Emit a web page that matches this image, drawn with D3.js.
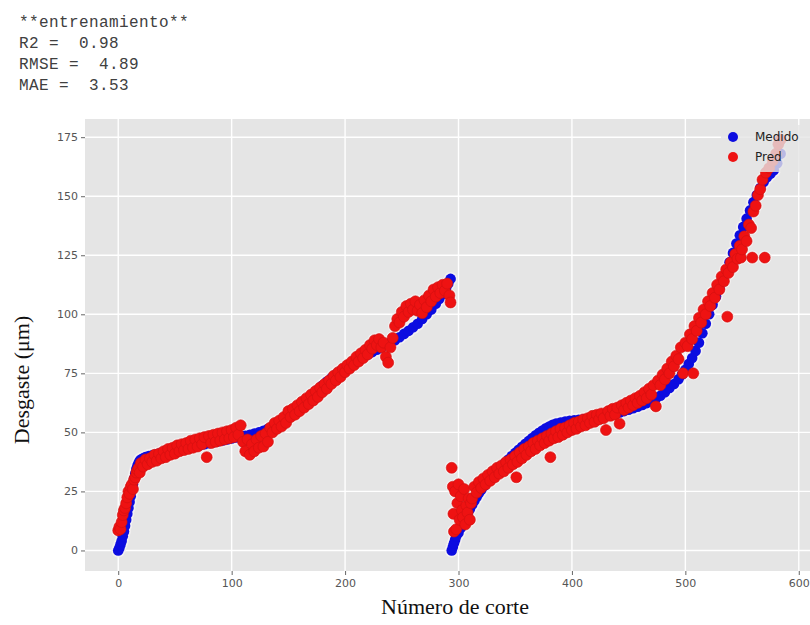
<!DOCTYPE html>
<html lang="es">
<head>
<meta charset="UTF-8">
<title>Desgaste - entrenamiento</title>
<script src="https://d3js.org/d3.v7.min.js"></script>
<style>
    body { margin: 0; background: #fff; }
    svg { display: block; }
    .stats { font-family: "Liberation Mono", "DejaVu Sans Mono", monospace; font-size: 16px; letter-spacing: 0.4px; fill: #404040; white-space: pre; }
    .tick text { font-family: "DejaVu Sans", sans-serif; font-size: 11px; fill: #555; }
    .axis-label { font-family: "Liberation Serif", "Times New Roman", serif; font-size: 22px; fill: #111; }
    .legend text { font-family: "DejaVu Sans", sans-serif; font-size: 12px; fill: #222; }
</style>
</head>
<body>
<svg width="810" height="625"></svg>
<script>
// header lines
const statLines = ["**entrenamiento**", "R2 =  0.98", "RMSE =  4.89", "MAE =  3.53"];

const xTicks = [0, 100, 200, 300, 400, 500, 600];
const yTicks = [0, 25, 50, 75, 100, 125, 150, 175];

// Medido (measured wear), two tool runs
const medidoX = [0,1,2,3,4,5,6,7,8,9,10,11,12,13,14,15,16,17,18,19,20,22,24,27,30,33,36,40,44,48,52,56,60,64,68,72,76,80,84,88,92,96,100,104,108,112,116,120,124,128,132,136,140,144,148,152,156,160,164,168,172,176,180,184,188,192,196,200,204,208,212,216,220,224,228,232,236,240,244,248,252,256,260,264,268,272,276,280,283,286,289,291,293,
    294,295,296,297,298,300,302,304,306,308,310,312,314,316,318,320,323,326,329,332,335,338,341,344,347,350,353,356,359,362,365,368,371,374,377,380,383,386,390,394,398,402,406,410,414,418,422,426,430,434,438,442,446,450,454,458,462,466,470,474,478,482,486,490,494,497,500,503,506,509,512,515,518,521,524,527,530,533,536,539,542,545,548,551,554,557,560,563,566,569,572,575,578,581,584];
const medidoY = [0,1,2.5,4,6,8,10.5,13,15.5,18,20.5,23,25.5,28,30.5,32.5,34.5,36,37,38,38.5,39,39.5,40,40.3,40.6,41,41.4,41.8,42.2,42.6,43,43.4,43.8,44.2,44.6,45,45.4,45.8,46.2,46.6,47,47.4,47.8,48.2,48.6,49,49.5,50,50.7,51.5,52.5,53.5,55,56.5,58,59.5,61,62.5,64,66,68,69.8,71.5,73,74.5,76,77.2,78.5,79.7,80.8,82,83,84,85,86,87,88,89,90.3,91.7,93,94.5,96,98,100,102,104.5,106.5,108.5,111,113,115,
    0,1.5,3,4.5,6,7.5,9.5,11.5,13.5,15.5,17.5,19.3,21,22.6,24.2,25.6,27.5,29.3,31,32.6,34,35.5,37,38.5,40,41.3,42.6,43.9,45.2,46.4,47.6,48.8,49.8,50.8,51.7,52.5,53.2,53.7,54.2,54.6,54.9,55.1,55.3,55.5,55.7,56,56.3,56.6,57,57.4,57.9,58.4,59,59.6,60.2,60.9,61.6,62.4,63.3,64.3,65.5,67,68.8,70.5,72.5,74.5,76.5,79,81.5,84.5,88,92,96,100,104,107.5,111,114.5,118,122,126,130,133.5,137,140.5,144,147.5,150.5,153.5,156,158,159.5,161,164,168];

// Pred (model prediction)
const predX = [0,1,2,3,4,5,6,7,8,9,10,11,12,13,14,15,16,17,18,19,
    20,22,24,26,28,30,32,34,36,38,40,42,44,46,48,50,52,54,56,58,60,62,64,66,68,70,72,74,76,78,80,82,84,86,88,90,92,94,96,98,100,102,104,106,108,110,112,114,116,118,120,122,124,126,128,130,132,134,136,138,140,142,144,146,148,150,152,154,156,158,160,162,164,166,168,170,172,174,176,178,180,182,184,186,188,190,192,194,196,198,200,202,204,206,208,210,212,214,216,218,220,222,224,226,228,230,232,234,236,238,240,242,244,246,248,250,252,254,256,258,260,262,264,266,268,270,272,274,276,278,280,282,284,286,288,290,292,293,
    294,295,295.5,296,297,298,299,300,301,302,303,304,305,306,307,308,309,310,311,
    312,314,316,318,320,322,324,326,328,330,332,334,336,338,340,342,344,346,348,350,351,352,354,356,358,360,362,364,366,368,370,372,374,376,378,380,381,382,384,386,388,390,392,394,396,398,400,402,404,406,408,410,412,414,416,418,420,422,424,426,428,430,432,434,436,438,440,442,444,446,448,450,452,454,456,458,460,462,464,466,468,470,472,474,476,478,480,482,484,486,488,490,492,494,496,498,500,502,504,506,507,508,510,512,514,516,518,520,522,524,526,528,530,532,534,536,537,538,540,542,544,546,548,549,550,552,554,556,558,559,560,562,564,566,568,570,571,574,577,580,582,584];
const predY = [8.5,10,9,12,15,17,18,20,22.5,25,24,27,28,26,30,31,33,34,35,33,
    37,35.5,38.5,36.5,39,37.5,40.5,38,41,39,42,39.5,43,40.5,43.5,41,44.5,42,45,42.5,45.5,43,46.5,43.5,47,44,47.5,45,48,39.5,48.5,45.5,49,46,49.5,46.5,50,47,50.5,47.5,51,48,52,49,53,46,42,47,40.5,45,42,47,43.5,48.5,44,49.5,46,52,50,54,51.5,55,52.5,56.5,54,59,56.5,60,57.5,61.5,59,63,60.5,64.5,62,66,63.5,67.5,65,69,67,70.5,68.5,72,70.5,74,72,75.5,73.5,77,75.5,78.5,77,80,78.5,82,80,83.5,81.5,85,83,87,85.5,89,87,89.5,86,88,82,79.5,86,90,95,98,96.5,101,99,103.5,101,104.5,102,105.5,101.5,104,100.5,106,103,108,105.5,110.5,107.5,111.5,109,112.5,110,113,108,105,
    35,27,15.5,8,25,9,20,28,13,23,17,14,26,11,19,16,22,13,20,
    22,27,24.5,29,26.5,30.5,28,32,29.5,33.5,31,35,32.5,36,33.5,37.5,35,38.5,36.5,40,31,37.5,41.5,39,43,40.5,44,42,45.5,43,46.5,44.5,47.5,45.5,48.5,46.5,39.5,49.5,47.5,50.5,48,51.5,49,52,50,53,51,54,51.5,54.5,52.5,55.5,53,56,54,57,54.5,57.5,55.5,58,56,51,59,57,60,57.5,60.5,53.7,61.5,59.5,62.5,60.5,63.5,61.5,64.5,62.5,65.5,63.5,67,64.5,68.5,66,70,61,72,70,74.5,72.5,77,75,80,78,82.5,81,86,75,88,86.5,91.5,89.5,75,95,93,98.5,96.5,102,100,105.5,103.5,109,107,112.5,110.5,116,114,119,99,117.5,122,120,125.5,123.5,129,124,127.5,133,131,138,136.5,124,143.5,146,150.5,153,157,124,160,162,165,168,172,174];

const svg = d3.select("svg");

// stats text above the chart
svg.selectAll(".stats")
   .data(statLines)
   .enter().append("text")
   .attr("class", "stats")
   .attr("x", 19)
   .attr("y", (d, i) => 27 + i * 21)
   .text(d => d);

const plot = {left: 85, right: 815, top: 119, bottom: 571};

const x = d3.scaleLinear().domain([-29.3, 614.3]).range([plot.left, plot.right]);
const y = d3.scaleLinear().domain([-8.7, 182.7]).range([plot.bottom, plot.top]);

// grey panel
svg.append("rect")
   .attr("x", plot.left).attr("y", plot.top)
   .attr("width", plot.right - plot.left)
   .attr("height", plot.bottom - plot.top)
   .attr("fill", "#e5e5e5");

// white grid
svg.append("g").selectAll("line").data(xTicks).enter().append("line")
   .attr("x1", d => x(d)).attr("x2", d => x(d))
   .attr("y1", plot.top).attr("y2", plot.bottom)
   .attr("stroke", "#fff").attr("stroke-width", 1.4);
svg.append("g").selectAll("line").data(yTicks).enter().append("line")
   .attr("y1", d => y(d)).attr("y2", d => y(d))
   .attr("x1", plot.left).attr("x2", plot.right)
   .attr("stroke", "#fff").attr("stroke-width", 1.4);

// axes
const xAxis = svg.append("g")
   .attr("transform", `translate(0,${plot.bottom})`)
   .call(d3.axisBottom(x).tickValues(xTicks).tickSize(4).tickPadding(4));
const yAxis = svg.append("g")
   .attr("transform", `translate(${plot.left},0)`)
   .call(d3.axisLeft(y).tickValues(yTicks).tickSize(4).tickPadding(3));
[xAxis, yAxis].forEach(a => {
    a.select(".domain").remove();
    a.selectAll(".tick line").attr("stroke", "#666");
});

// points
const medido = medidoX.map((v, i) => ({x: v, y: medidoY[i]}));
const pred = predX.map((v, i) => ({x: v, y: predY[i]}));

const dots = svg.append("g");
// light fringe around the marks, as in the original image
dots.append("g").selectAll("circle")
   .data(medido.concat(pred)).enter().append("circle")
   .attr("cx", d => x(d.x)).attr("cy", d => y(d.y))
   .attr("r", 7).attr("fill", "#f3f1f1");

dots.append("g").selectAll("circle")
   .data(medido).enter().append("circle")
   .attr("cx", d => x(d.x)).attr("cy", d => y(d.y))
   .attr("r", 5.3).attr("fill", "#0c0ce0");

dots.append("g").selectAll("circle")
   .data(pred).enter().append("circle")
   .attr("cx", d => x(d.x)).attr("cy", d => y(d.y))
   .attr("r", 5.5).attr("fill", "#ee1212")
   .attr("stroke", "#d01010").attr("stroke-width", 0.6);

// legend (semi-transparent like matplotlib)
const legend = svg.append("g").attr("class", "legend");
legend.append("rect")
   .attr("x", 721).attr("y", 125).attr("width", 89).attr("height", 47)
   .attr("fill", "#e5e5e5").attr("fill-opacity", 0.8);
const items = [{name: "Medido", color: "#0c0ce0"}, {name: "Pred", color: "#ee1212"}];
const li = legend.selectAll(".item").data(items).enter().append("g")
   .attr("transform", (d, i) => `translate(733,${137 + i * 20})`);
li.append("circle").attr("r", 5).attr("fill", d => d.color);
li.append("text").attr("x", 22).attr("dy", "0.35em").text(d => d.name);

// axis titles
svg.append("text")
   .attr("class", "axis-label")
   .attr("x", 455).attr("y", 614)
   .attr("text-anchor", "middle")
   .text("Número de corte");

svg.append("text")
   .attr("class", "axis-label")
   .attr("transform", "translate(29,380) rotate(-90)")
   .attr("text-anchor", "middle")
   .text("Desgaste (μm)");
</script>
</body>
</html>
